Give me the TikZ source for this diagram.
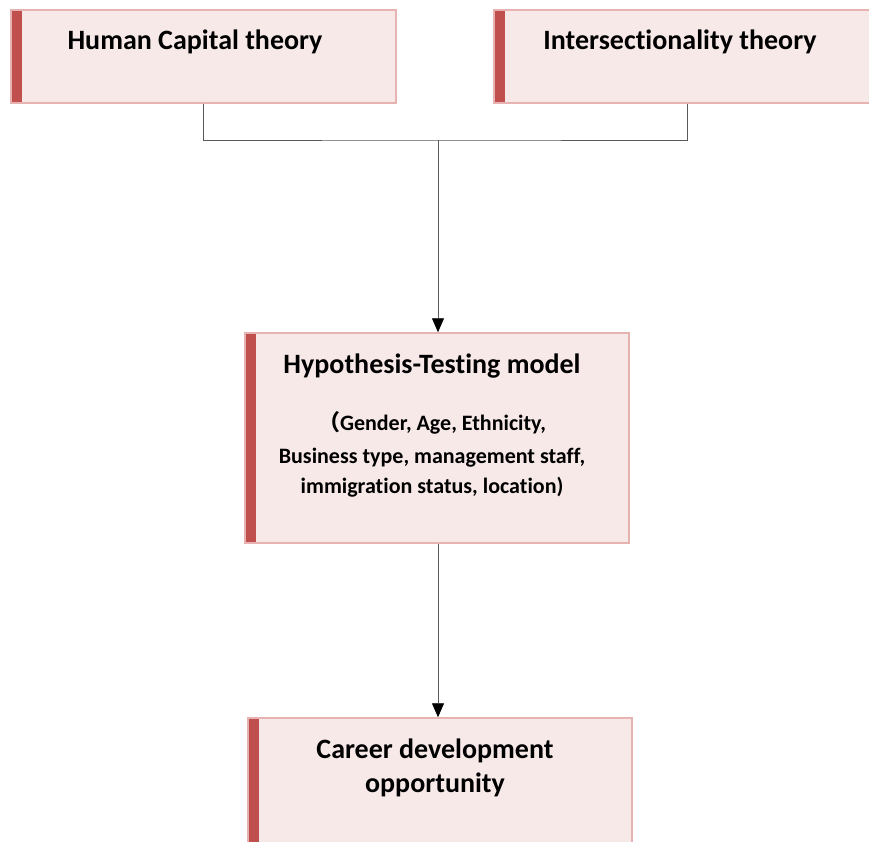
\documentclass[tikz,border=0pt]{standalone}
\usepackage{fontspec}
\setmainfont[Ligatures={NoCommon}]{Carlito}
\newfontfamily\cjk{Noto Sans CJK SC}
\usetikzlibrary{arrows.meta}
\definecolor{boxfill}{HTML}{F8E9E9}
\definecolor{boxline}{HTML}{E7B3B2}
\definecolor{barred}{HTML}{C0504D}
\definecolor{conn}{HTML}{595959}
\tikzset{
  box/.style={draw=boxline, line width=1.5pt, fill=boxfill, rectangle, inner sep=0pt,
    path picture={\fill[barred] (path picture bounding box.north west) rectangle ([xshift=11pt]path picture bounding box.south west);}},
  title/.style={font=\bfseries\fontsize{28}{33}\selectfont, anchor=base, inner sep=0pt},
  sub/.style={font=\bfseries\fontsize{22}{31}\selectfont, anchor=base, inner sep=0pt, align=center},
  conline/.style={draw=conn, line width=0.9pt},
  arr/.style={conline, -{Triangle[width=12pt,length=14pt,fill=black,color=black]}}
}
\begin{document}
\begin{tikzpicture}[x=1pt,y=-1pt]
\useasboundingbox (0,0) rectangle (869,842);
% boxes
\node[box, minimum width=385pt, minimum height=93pt] (h1) at (203.5,56.5) {};
\node[box, minimum width=386pt, minimum height=93pt] (h2) at (687,56.5) {};
\node[box, minimum width=384pt, minimum height=210pt] (hyp) at (437,438) {};
\node[box, minimum width=384pt, minimum height=150pt] (car) at (440,793) {};
% texts
\node[title] (t1) at (195,50) {Human Capital theory};
\node[title] (t2) at (680,50) {Intersectionality theory};
\node[title] (t3) at (432,373) {Hypothesis-Testing model};
\node[sub] (t4) at (432,430) {{\cjk （}Gender, Age, Ethnicity,};
\node[sub] (t5) at (432,463) {Business type, management staff,};
\node[sub] (t6) at (432,493) {immigration status, location)};
\node[title] (t7) at (435,758) {Career development};
\node[title] (t8) at (435,792) {opportunity};
% connectors
\coordinate (j) at (438,140);
\draw[conline] (h1.south) |- (j) -| (h2.south);
\draw[arr] (j) -- (j |- hyp.north);
\draw[arr] (j |- hyp.south) -- (j |- car.north);
\end{tikzpicture}
\end{document}
